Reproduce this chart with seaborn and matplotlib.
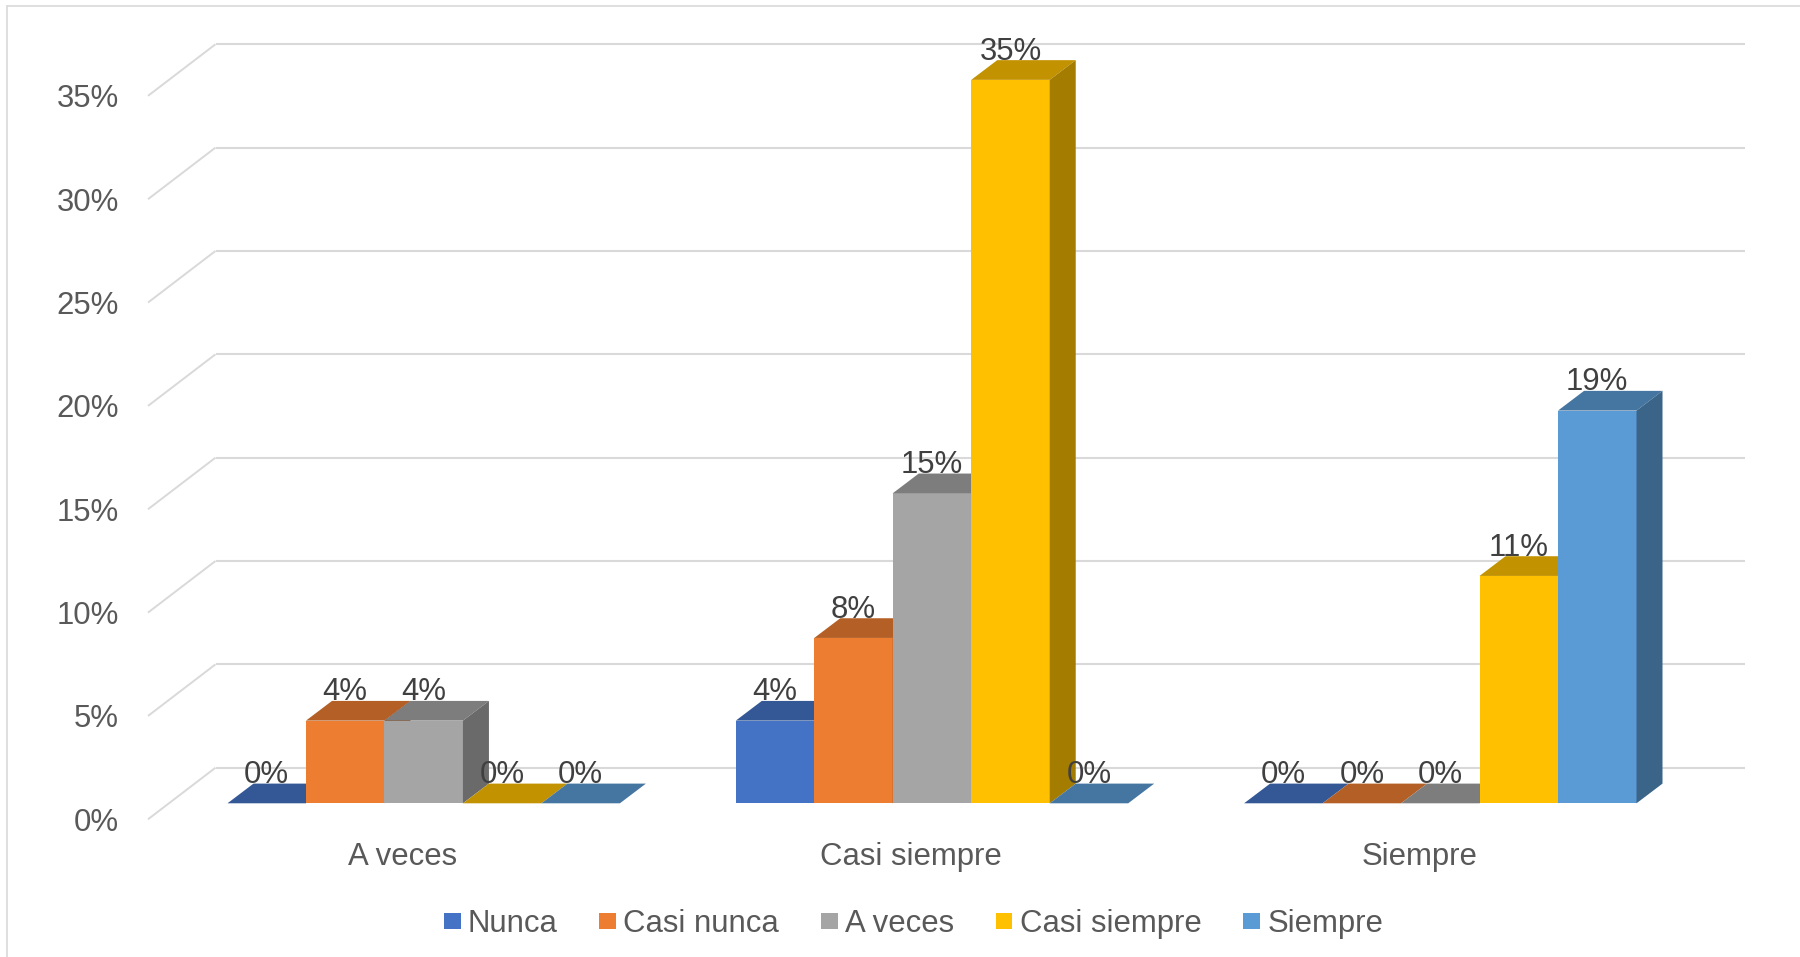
import matplotlib
matplotlib.use("Agg")
import matplotlib.pyplot as plt
from matplotlib.patches import Polygon, Patch
from matplotlib.lines import Line2D
from matplotlib.colors import to_rgb
import pandas as pd
import seaborn as sns

# ---- data -------------------------------------------------------------
categorias = ["A veces", "Casi siempre", "Siempre"]
series = ["Nunca", "Casi nunca", "A veces", "Casi siempre", "Siempre"]
nunca = [0, 4, 0]
casi_nunca = [4, 8, 0]
a_veces = [4, 15, 0]
casi_siempre = [0, 35, 11]
siempre = [0, 0, 19]
valores = [nunca, casi_nunca, a_veces, casi_siempre, siempre]
y_ticks = [0, 5, 10, 15, 20, 25, 30, 35]

colores = ["#4472C4", "#ED7D31", "#A5A5A5", "#FFC000", "#5B9BD5"]

df = pd.DataFrame(
    [(c, s, v[i]) for s, v in zip(series, valores) for i, c in enumerate(categorias)],
    columns=["categoria", "serie", "valor"],
)

# ---- figure / layout (pixel based) -----------------------------------
W, H, DPI = 1800, 957, 100
PX_PER_CAT = 508.3      # horizontal distance between category groups
CAT0_PX = 423.7         # pixel x of first group centre
PX_PER_PCT = 20.67      # vertical pixels per percentage point
BASE_PX = 803.3         # pixel y (from top) of the bar bases
AX_L, AX_R, AX_T, AX_B = 148, 1745, 30, 819.3

# oblique depth of the 3-D box
FLOOR_DX, FLOOR_DY = 67.5, 51.6
FRONT_DX, FRONT_DY = 20.8, 16.0
BAR_DX, BAR_DY = 26.0, 19.7

def dx(px):
    return px / PX_PER_CAT

def dy(px):
    return px / PX_PER_PCT

sns.set_theme(style="white")
plt.rcParams["font.family"] = ["Liberation Sans", "DejaVu Sans"]
FS = 22.4
GRID = "#D9D9D9"
TXT = "#595959"

fig = plt.figure(figsize=(W / DPI, H / DPI), dpi=DPI)
fig.patch.set_facecolor("white")
ax = fig.add_axes([AX_L / W, 1 - AX_B / H, (AX_R - AX_L) / W, (AX_B - AX_T) / H])

sns.barplot(
    data=df, x="categoria", y="valor", hue="serie",
    order=categorias, hue_order=series, palette=colores,
    saturation=1, width=0.772, errorbar=None, legend=False,
    linewidth=0, edgecolor="none", ax=ax,
)

xlim = ((AX_L - CAT0_PX) / PX_PER_CAT, (AX_R - CAT0_PX) / PX_PER_CAT)
ylim = ((BASE_PX - AX_B) / PX_PER_PCT, (BASE_PX - AX_T) / PX_PER_PCT)
ax.set_xlim(*xlim)
ax.set_ylim(*ylim)
ax.patch.set_alpha(0)
for s in ax.spines.values():
    s.set_visible(False)
ax.set_xlabel("")
ax.set_ylabel("")

# ---- walls: side diagonals and back-wall gridlines ----------------------
x_front = xlim[0]
x_back = xlim[0] + dx(FLOOR_DX)
for v in y_ticks:
    yf = v - dy(FRONT_DY)
    yb = yf + dy(FLOOR_DY)
    ax.plot([x_front, x_back], [yf, yb], color=GRID, lw=1.4,
            solid_capstyle="butt", zorder=0.5, clip_on=False)
    ax.plot([x_back, xlim[1]], [yb, yb], color=GRID, lw=1.5,
            solid_capstyle="butt", zorder=0.5, clip_on=False)

# ---- 3-D faces for every bar ---------------------------------------------
def shade(color, k):
    r, g, b = to_rgb(color)
    return (r * k, g * k, b * k)

bars = []
for si, cont in enumerate(ax.containers):
    for p in cont.patches:
        bars.append((p.get_x(), si, p))
bars.sort(key=lambda t: t[0])

ddx, ddy = dx(BAR_DX), dy(BAR_DY)
for rank, (_, si, p) in enumerate(bars):
    z = 2 + rank * 0.01
    x0, w, h = p.get_x(), p.get_width(), p.get_height()
    p.set_zorder(z)
    top = Polygon([(x0, h), (x0 + w, h), (x0 + w + ddx, h + ddy), (x0 + ddx, h + ddy)],
                  closed=True, facecolor=shade(colores[si], 0.76),
                  edgecolor="none", lw=0, zorder=z)
    ax.add_patch(top)
    if h > 0:
        side = Polygon([(x0 + w, 0), (x0 + w + ddx, ddy), (x0 + w + ddx, h + ddy), (x0 + w, h)],
                       closed=True, facecolor=shade(colores[si], 0.645),
                       edgecolor="none", lw=0, zorder=z)
        ax.add_patch(side)

# ---- value labels ---------------------------------------------------------
for si, cont in enumerate(ax.containers):
    txts = ax.bar_label(cont, labels=[f"{v}%" for v in valores[si]],
                        padding=9.5, fontsize=FS, color="#404040")
    for t in txts:
        t.set_zorder(10)

# ---- axes ticks -----------------------------------------------------------
ax.set_yticks([v - dy(FRONT_DY) for v in y_ticks], [f"{v}%" for v in y_ticks])
ax.set_xticks([i - dx(FRONT_DX) for i in range(len(categorias))], categorias)
ax.tick_params(axis="y", length=0, pad=20.9, labelsize=FS, labelcolor=TXT)
ax.tick_params(axis="x", length=0, pad=16.5, labelsize=FS, labelcolor=TXT)

# ---- legend ---------------------------------------------------------------
handles = [Patch(facecolor=c, edgecolor="none") for c in colores]
fig.legend(handles, series, loc="center",
           bbox_to_anchor=(913.5 / W, 1 - 924 / H), ncol=5, frameon=False,
           fontsize=FS, handlelength=0.537, handleheight=0.449,
           handletextpad=0.235, columnspacing=1.34, labelcolor=TXT,
           borderpad=0, borderaxespad=0)

# ---- chart frame (top and left edges) -------------------------------------
fig.add_artist(Line2D([7.3 / W, 1], [1 - 5.7 / H, 1 - 5.7 / H], color=GRID, lw=1.2))
fig.add_artist(Line2D([7.3 / W, 7.3 / W], [0, 1 - 5.7 / H], color=GRID, lw=1.2))

fig.savefig("out.png", dpi=DPI, facecolor="white")
